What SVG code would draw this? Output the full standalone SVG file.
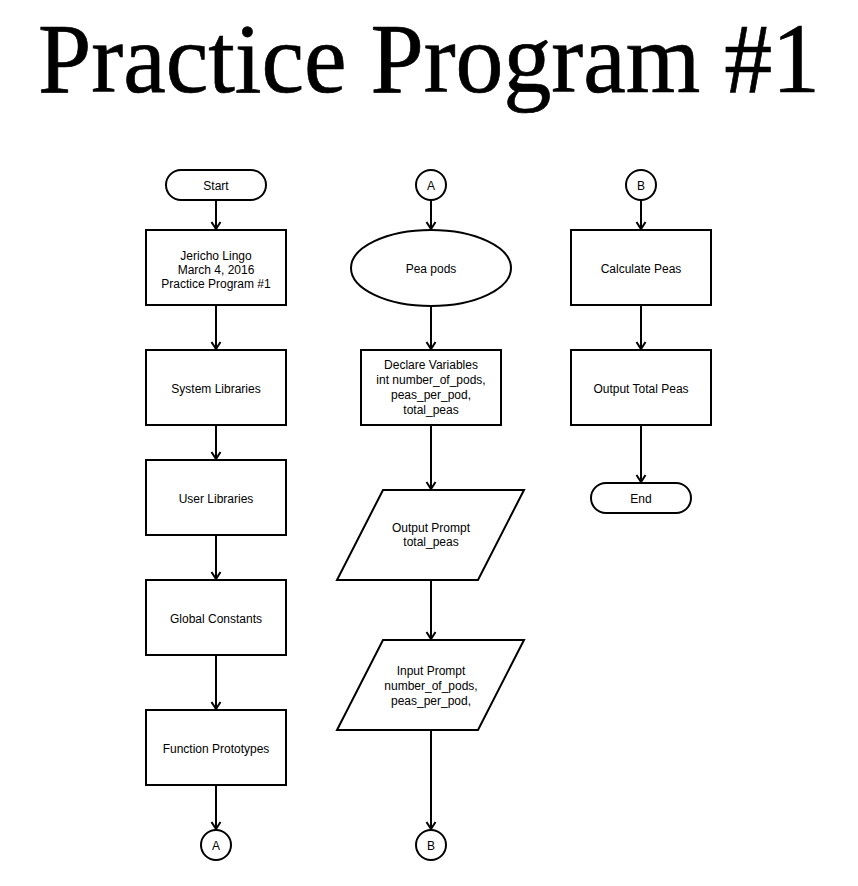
<svg xmlns="http://www.w3.org/2000/svg" width="858" height="886" viewBox="0 0 858 886">
<style>
.s{fill:#fff;stroke:#000;stroke-width:2}
.t{font-family:"Liberation Sans",Arial,sans-serif;font-size:12px;fill:#000;text-anchor:middle}
.c{stroke:#000;stroke-width:2;fill:none}
.title{font-family:"Liberation Serif","Times New Roman",serif;font-size:99px;fill:#000;stroke:#000;stroke-width:0.7}
</style>
<defs>
<marker id="arr" viewBox="-1 -6 9 12" refX="7" refY="0" markerWidth="9" markerHeight="12" markerUnits="userSpaceOnUse" orient="auto">
<path d="M0,-4.5 L7,0 L0,4.5" fill="none" stroke="#000" stroke-width="2"/>
</marker>
</defs>
<rect width="858" height="886" fill="#fff"/>
<text class="title" x="38" y="92" textLength="782" lengthAdjust="spacingAndGlyphs">Practice Program #1</text>

<g id="connectors">
<line class="c" x1="216" y1="200" x2="216" y2="229" marker-end="url(#arr)"/>
<line class="c" x1="216" y1="305" x2="216" y2="349" marker-end="url(#arr)"/>
<line class="c" x1="216" y1="425" x2="216" y2="459" marker-end="url(#arr)"/>
<line class="c" x1="216" y1="535" x2="216" y2="579" marker-end="url(#arr)"/>
<line class="c" x1="216" y1="655" x2="216" y2="709" marker-end="url(#arr)"/>
<line class="c" x1="216" y1="785" x2="216" y2="829" marker-end="url(#arr)"/>
<line class="c" x1="431" y1="200" x2="431" y2="229" marker-end="url(#arr)"/>
<line class="c" x1="431" y1="306" x2="431" y2="349" marker-end="url(#arr)"/>
<line class="c" x1="431" y1="425" x2="431" y2="489" marker-end="url(#arr)"/>
<line class="c" x1="431" y1="580" x2="431" y2="639" marker-end="url(#arr)"/>
<line class="c" x1="431" y1="730" x2="431" y2="829" marker-end="url(#arr)"/>
<line class="c" x1="641" y1="200" x2="641" y2="229" marker-end="url(#arr)"/>
<line class="c" x1="641" y1="305" x2="641" y2="349" marker-end="url(#arr)"/>
<line class="c" x1="641" y1="425" x2="641" y2="482" marker-end="url(#arr)"/>
</g>

<g id="start"><rect class="s" x="166" y="170" width="100" height="30" rx="15"/><text class="t" x="216" y="189.5">Start</text></g>
<g id="header"><rect class="s" x="146" y="230" width="140" height="75"/>
<text class="t" x="216" y="259.5">Jericho Lingo</text><text class="t" x="216" y="273.5">March 4, 2016</text><text class="t" x="216" y="287.5">Practice Program #1</text></g>
<g id="syslib"><rect class="s" x="146" y="350" width="140" height="75"/><text class="t" x="216" y="392.5">System Libraries</text></g>
<g id="userlib"><rect class="s" x="146" y="460" width="140" height="75"/><text class="t" x="216" y="502.5">User Libraries</text></g>
<g id="globconst"><rect class="s" x="146" y="580" width="140" height="75"/><text class="t" x="216" y="622.5">Global Constants</text></g>
<g id="funcproto"><rect class="s" x="146" y="710" width="140" height="75"/><text class="t" x="216" y="752.5">Function Prototypes</text></g>
<g id="connA1"><circle class="s" cx="216" cy="845" r="15"/><text class="t" x="216" y="849.5">A</text></g>

<g id="connA2"><circle class="s" cx="431" cy="185" r="15"/><text class="t" x="431" y="189.5">A</text></g>
<g id="peapods"><ellipse class="s" cx="431" cy="268" rx="80" ry="38"/><text class="t" x="431" y="272.5">Pea pods</text></g>
<g id="declare"><rect class="s" x="361" y="350" width="140" height="75"/>
<text class="t" x="431" y="369">Declare Variables</text><text class="t" x="431" y="384">int number_of_pods,</text><text class="t" x="431" y="399">peas_per_pod,</text><text class="t" x="431" y="414">total_peas</text></g>
<g id="output"><polygon class="s" points="383,490 524,490 478,580 337,580"/>
<text class="t" x="431" y="532">Output Prompt</text><text class="t" x="431" y="546">total_peas</text></g>
<g id="input"><polygon class="s" points="383,640 524,640 478,730 337,730"/>
<text class="t" x="431" y="674.5">Input Prompt</text><text class="t" x="431" y="689.5">number_of_pods,</text><text class="t" x="431" y="704.5">peas_per_pod,</text></g>
<g id="connB1"><circle class="s" cx="431" cy="845" r="15"/><text class="t" x="431" y="849.5">B</text></g>

<g id="connB2"><circle class="s" cx="641" cy="185" r="15"/><text class="t" x="641" y="189.5">B</text></g>
<g id="calc"><rect class="s" x="571" y="230" width="140" height="75"/><text class="t" x="641" y="272.5">Calculate Peas</text></g>
<g id="outtotal"><rect class="s" x="571" y="350" width="140" height="75"/><text class="t" x="641" y="392.5">Output Total Peas</text></g>
<g id="end"><rect class="s" x="591" y="483" width="100" height="30" rx="15"/><text class="t" x="641" y="502.5">End</text></g>
</svg>
